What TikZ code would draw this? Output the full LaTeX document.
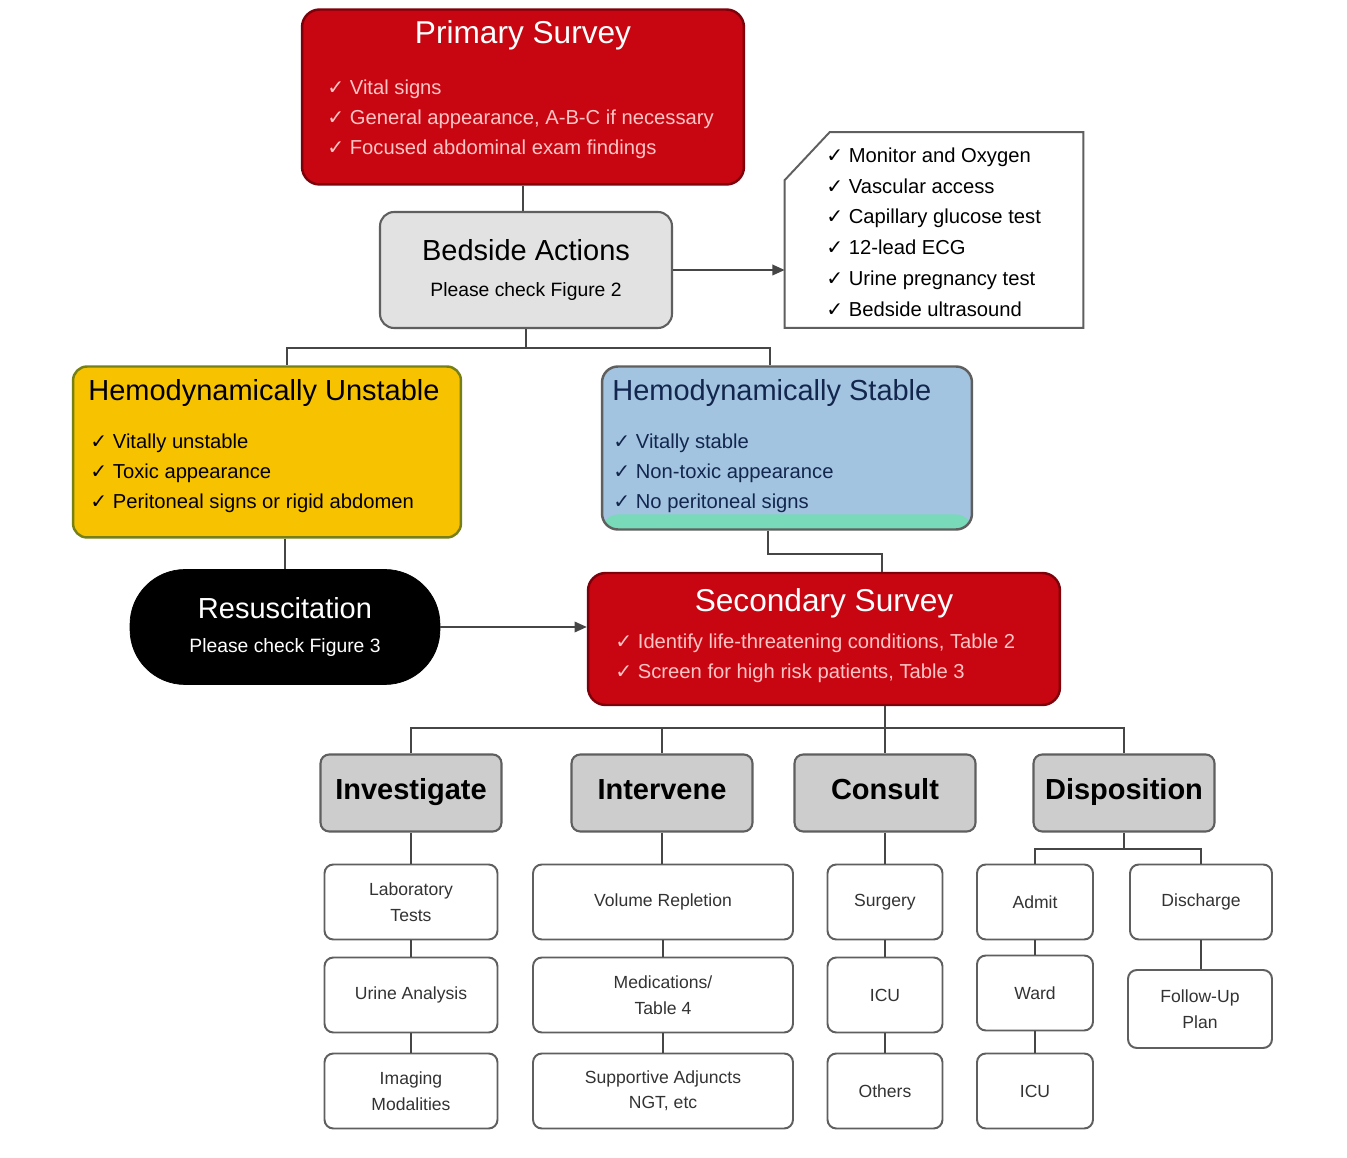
\documentclass[tikz,border=0pt]{standalone}
\usepackage{fontspec}
\setmainfont{Liberation Sans}
\newfontfamily\tickfont{DejaVu Sans}
\usetikzlibrary{arrows.meta}

\definecolor{survred}{RGB}{200,6,18}
\definecolor{survdark}{RGB}{125,0,10}
\definecolor{redtext}{RGB}{255,196,196}
\definecolor{gold}{RGB}{247,195,0}
\definecolor{goldedge}{RGB}{118,128,20}
\definecolor{skyblue}{RGB}{163,196,224}
\definecolor{stripgreen}{RGB}{120,218,185}
\definecolor{bluetext}{RGB}{18,38,78}
\definecolor{lightgray}{RGB}{226,226,226}
\definecolor{midgray}{RGB}{205,205,205}
\definecolor{edgegray}{RGB}{95,95,95}
\definecolor{linegray}{RGB}{70,70,70}

\newcommand{\chk}{{\tickfont ✓}\ }

\tikzset{
  surveybox/.style={draw=survdark, fill=survred, rounded corners=10pt, line width=1.4pt},
  graybox/.style={draw=edgegray, fill=lightgray, rounded corners=8pt, line width=1.2pt,
    align=center, font=\fontsize{11}{13}\selectfont},
  noteframe/.style={draw=edgegray, fill=white, line width=1.1pt},
  unstablebox/.style={draw=goldedge, fill=gold, rounded corners=8pt, line width=1.4pt},
  stablebox/.style={draw=edgegray, fill=skyblue, rounded corners=9pt, line width=1.4pt,
    path picture={\fill[stripgreen] (path picture bounding box.south west)
      rectangle ([yshift=0.3cm]path picture bounding box.south east);}},
  blackbox/.style={draw=black, fill=black, rounded corners=1.1cm, text=white,
    align=center, font=\fontsize{11}{13}\selectfont},
  headbox/.style={draw=edgegray, fill=midgray, rounded corners=5pt, line width=1.2pt,
    minimum width=3.62cm, minimum height=1.54cm, text height=0.72em, text depth=0em,
    font=\fontsize{16.5}{20}\selectfont\bfseries},
  leafbox/.style={draw=edgegray, fill=white, rounded corners=5pt, line width=1.1pt,
    minimum height=1.5cm, align=center, text=black!80, font=\fontsize{10}{14.5}\selectfont},
  titletext/.style={inner sep=0pt, font=\fontsize{16.5}{20}\selectfont},
  listtext/.style={anchor=west, align=left, inner sep=0pt, font=\fontsize{11.5}{17}\selectfont},
  link/.style={draw=linegray, line width=1.1pt},
  arrowlink/.style={link, -{Triangle[length=7pt,width=6pt]}}
}

\begin{document}
\begin{tikzpicture}[x=0.02cm, y=-0.02cm]
  \useasboundingbox[fill=white] (0,0) rectangle (1347,1158);
  % primary survey
  \node[surveybox, minimum width=8.84cm, minimum height=3.5cm] (primary) at (523,97) {};
  \node[titletext, text=white, font=\fontsize{18}{22}\selectfont] (primarytitle) at (523,35) {Primary Survey};
  \node[listtext, text=redtext] (primarylist) at (327,119)
    {\chk Vital signs\\ \chk General appearance, A-B-C if necessary\\ \chk Focused abdominal exam findings};
  % bedside actions and checklist
  \node[graybox, minimum width=5.84cm, minimum height=2.32cm] (bedside) at (526,270)
    {{\fontsize{16.5}{20}\selectfont Bedside Actions}\\[8pt] Please check Figure 2};
  \node[inner sep=0pt, minimum width=5.96cm, minimum height=3.9cm] (note) at (934,230) {};
  \draw[noteframe] (note.south west) -- ([yshift=-0.96cm]note.north west)
    -- ([xshift=0.9cm]note.north west) -- (note.north east) -- (note.south east) -- cycle;
  \node[listtext, font=\fontsize{11.5}{17.5}\selectfont] (notelist) at (826,232)
    {\chk Monitor and Oxygen\\ \chk Vascular access\\ \chk Capillary glucose test\\
     \chk 12-lead ECG\\ \chk Urine pregnancy test\\ \chk Bedside ultrasound};
  % haemodynamic state
  \node[unstablebox, minimum width=7.76cm, minimum height=3.42cm] (unstable) at (267,452) {};
  \node[titletext, anchor=west] (unstabletitle) at (88,393) {Hemodynamically Unstable};
  \node[listtext] (unstablelist) at (90,473)
    {\chk Vitally unstable\\ \chk Toxic appearance\\ \chk Peritoneal signs or rigid abdomen};
  \node[stablebox, minimum width=7.4cm, minimum height=3.26cm] (stable) at (787,448) {};
  \node[titletext, anchor=west, text=bluetext] (stabletitle) at (612,393) {Hemodynamically Stable};
  \node[listtext, text=bluetext] (stablelist) at (613,473)
    {\chk Vitally stable\\ \chk Non-toxic appearance\\ \chk No peritoneal signs};
  % resuscitation and secondary survey
  \node[blackbox, minimum width=6.2cm, minimum height=2.3cm] (resus) at (285,627)
    {{\fontsize{16.5}{20}\selectfont Resuscitation}\\[6pt] Please check Figure 3};
  \node[surveybox, minimum width=9.44cm, minimum height=2.64cm] (secondary) at (824,639) {};
  \node[titletext, text=white, font=\fontsize{18}{22}\selectfont] (secondarytitle) at (824,603) {Secondary Survey};
  \node[listtext, text=redtext] (secondarylist) at (615,658)
    {\chk Identify life-threatening conditions, Table 2\\ \chk Screen for high risk patients, Table 3};
  % action headings
  \node[headbox] (investigate) at (411,793) {Investigate};
  \node[headbox] (intervene) at (662,793) {Intervene};
  \node[headbox] (consult) at (885,793) {Consult};
  \node[headbox] (disposition) at (1124,793) {Disposition};
  % investigate column
  \node[leafbox, minimum width=3.46cm] (lab) at (411,902) {Laboratory\\Tests};
  \node[leafbox, minimum width=3.46cm] (urine) at (411,995) {Urine Analysis};
  \node[leafbox, minimum width=3.46cm] (imaging) at (411,1091) {Imaging\\Modalities};
  % intervene column
  \node[leafbox, minimum width=5.2cm] (volume) at (663,902) {Volume Repletion};
  \node[leafbox, minimum width=5.2cm] (meds) at (663,995) {Medications/\\Table 4};
  \node[leafbox, minimum width=5.2cm] (adjuncts) at (663,1091) {Supportive Adjuncts\\NGT, etc};
  % consult column
  \node[leafbox, minimum width=2.3cm] (surgery) at (885,902) {Surgery};
  \node[leafbox, minimum width=2.3cm] (icuconsult) at (885,995) {ICU};
  \node[leafbox, minimum width=2.3cm] (others) at (885,1091) {Others};
  % disposition columns
  \node[leafbox, minimum width=2.32cm] (admit) at (1035,902) {Admit};
  \node[leafbox, minimum width=2.32cm] (ward) at (1035,993) {Ward};
  \node[leafbox, minimum width=2.32cm] (icuadmit) at (1035,1091) {ICU};
  \node[leafbox, minimum width=2.84cm] (discharge) at (1201,902) {Discharge};
  \node[leafbox, minimum width=2.88cm, minimum height=1.56cm] (followup) at (1200,1009) {Follow-Up\\Plan};
  % connectors, top half
  \draw[link] (primary.south) -- (primary.south |- bedside.north);
  \draw[arrowlink] (bedside.east) -- (bedside.east -| note.west);
  \draw[link] (bedside.south) -- ++(0,19) coordinate (split1);
  \draw[link] (split1) -| ([xshift=0.4cm]unstable.north);
  \draw[link] (split1) -| ([xshift=-0.34cm]stable.north);
  \draw[link] (resus.north |- unstable.south) -- (resus.north);
  \draw[arrowlink] (resus.east) -- (resus.east -| secondary.west);
  \draw[link] ([xshift=-0.38cm]stable.south) -- ++(0,23) -| ([xshift=1.16cm]secondary.north);
  % connectors, bottom half
  \draw[link] (consult.north |- secondary.south) -- (consult.north);
  \draw[link] (investigate.north) -- ++(0,-25) -| (disposition.north);
  \draw[link] (intervene.north) -- ++(0,-25);
  \draw[link] (investigate.south) -- (lab.north);
  \draw[link] (lab.south) -- (urine.north);
  \draw[link] (urine.south) -- (imaging.north);
  \draw[link] (intervene.south) -- (intervene.south |- volume.north);
  \draw[link] (volume.south) -- (meds.north);
  \draw[link] (meds.south) -- (adjuncts.north);
  \draw[link] (consult.south) -- (surgery.north);
  \draw[link] (surgery.south) -- (icuconsult.north);
  \draw[link] (icuconsult.south) -- (others.north);
  \draw[link] (disposition.south) -- ++(0,16) coordinate (split2);
  \draw[link] (split2) -| (admit.north);
  \draw[link] (split2) -| (discharge.north);
  \draw[link] (admit.south) -- (ward.north);
  \draw[link] (ward.south) -- (icuadmit.north);
  \draw[link] (discharge.south) -- (discharge.south |- followup.north);
\end{tikzpicture}
\end{document}
